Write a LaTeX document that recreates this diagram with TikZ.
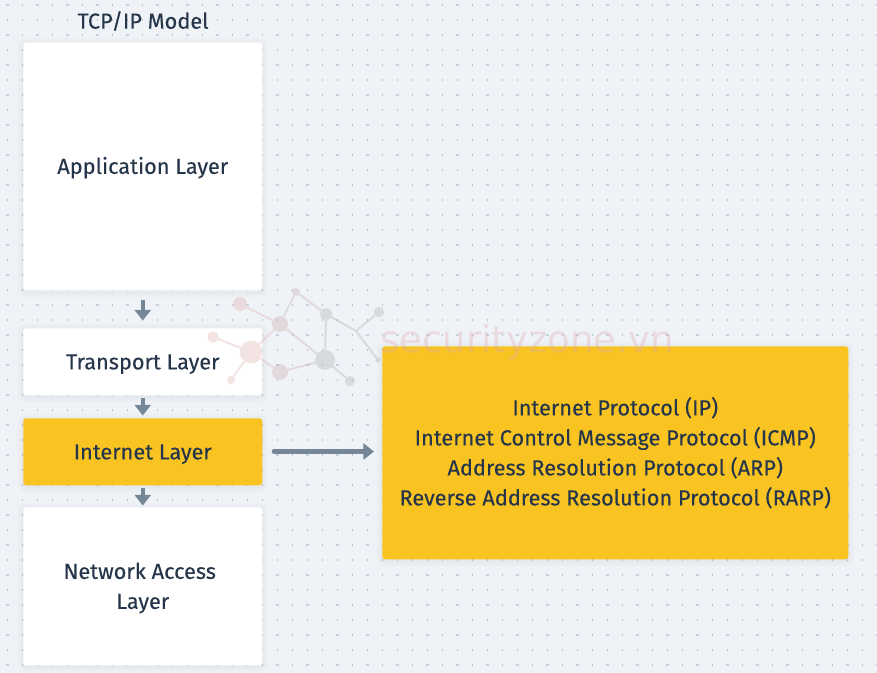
\documentclass[tikz,border=0pt]{standalone}
\usepackage{fontspec}
\setmainfont{Fira Sans}[FakeBold=0.15]
\newfontfamily\wmfont{DejaVu Sans}
\usetikzlibrary{arrows.meta}
\definecolor{bgc}{HTML}{EFF3F7}
\definecolor{ink}{HTML}{26364A}
\definecolor{amber}{HTML}{F9C422}
\definecolor{steel}{HTML}{758696}
\definecolor{dotc}{HTML}{C8D3E1}
\definecolor{wmred}{HTML}{DFA9A9}
\definecolor{wmmid}{HTML}{C8A4A8}
\definecolor{wmgrey}{HTML}{A9A9A9}
\newcommand\dn[1]{\raisebox{0pt}[\dimexpr\height+2.4pt\relax]{\begin{tabular}{@{}c@{}}#1\end{tabular}}}
\tikzset{
  px/.style={x=0.75pt,y=-0.75pt},
  boxbase/.style={rounded corners=2.2pt,inner sep=0pt,font=\fontsize{16.3pt}{22.5pt}\selectfont,text=ink,anchor=north west,
    preaction={draw=black,draw opacity=0.012,line width=9pt,transform canvas={yshift=-1pt}},
    preaction={draw=black,draw opacity=0.012,line width=6pt,transform canvas={yshift=-1pt}},
    preaction={draw=black,draw opacity=0.014,line width=3pt,transform canvas={yshift=-1pt}}},
  whitebox/.style={boxbase,fill=white},
  ambox/.style={boxbase,fill=amber},
  flow/.style={draw=steel,line width=3.4pt,-{Triangle[length=8pt,width=12pt]}},
  wl/.style={line width=1.5pt,line cap=round},
  wr/.style={wl,draw=wmred},
  wm/.style={wl,draw=wmmid},
  wg/.style={wl,draw=wmgrey},
  wdr/.style={circle,fill=wmred,inner sep=0pt},
  wdm/.style={circle,fill=wmmid,inner sep=0pt},
  wdg/.style={circle,fill=wmgrey,inner sep=0pt},
}
\begin{document}
\begin{tikzpicture}[px]
\useasboundingbox (0,0) rectangle (877,673);
\fill[bgc] (0,0) rectangle (877,673);
\foreach \i in {0,...,58}{\foreach \j in {0,...,44}{
  \pgfmathtruncatemacro{\big}{(mod(\i,2)==0 && mod(\j,2)==0)?1:0}
  \ifnum\big=1
    \fill[dotc] ({7.5+15*\i-1.5},{5+15*\j-1}) rectangle ++(3,2);
  \else
    \fill[dotc!80!gray] ({7.5+15*\i-0.5},{5+15*\j-1}) rectangle ++(1,2);
  \fi
}}
\node[font=\fontsize{16.3pt}{20pt}\selectfont,text=ink] (title) at (143,21) {TCP/IP Model};
\node[whitebox,minimum width=179.25pt,minimum height=186pt] (app) at (23,42) {\dn{Application Layer}};
\node[whitebox,minimum width=179.25pt,minimum height=50.25pt] (trans) at (23,328) {\dn{Transport Layer}};
\node[ambox,minimum width=179.25pt,minimum height=50.25pt] (inet) at (23,418) {\dn{Internet Layer}};
\node[whitebox,minimum width=179.25pt,minimum height=118.5pt] (net) at (23,507) {\dn{Network Access\hspace*{4.5pt}\\Layer}};
\node[ambox,minimum width=349.5pt,minimum height=159.75pt] (proto) at (382,346) {\dn{Internet Protocol (IP)\\Internet Control Message Protocol (ICMP)\\Address Resolution Protocol (ARP)\\Reverse Address Resolution Protocol (RARP)}};
\draw[flow] (app.south) ++(0,9) -- ++(0,21);
\draw[flow] (trans.south) ++(0,2) -- ++(0,18);
\draw[flow] (inet.south) ++(0,2) -- ++(0,18);
\coordinate (a) at (274,451.5);
\coordinate (b) at (374,451.5);
\draw[flow,line cap=round] (a) -- (b);
\begin{scope}[opacity=0.32,transparency group]
\node[wdr,minimum size=17pt] (n1) at (251,352) {};
\node[wdr,minimum size=8.5pt] (n2) at (213,337) {};
\node[wdr,minimum size=6pt] (n3) at (231,380) {};
\node[wdr,minimum size=10.5pt] (n4) at (240,304) {};
\node[wdm,minimum size=12pt] (n5) at (280,324) {};
\node[wdm,minimum size=12pt] (n6) at (280,372) {};
\node[wdm,minimum size=6pt] (n7) at (296,292) {};
\node[wdg,minimum size=15pt] (g1) at (325,360) {};
\node[wdg,minimum size=9pt] (g2) at (326,314) {};
\node[wdg,minimum size=8pt] (g3) at (379,312) {};
\node[wdg,minimum size=7.5pt] (g4) at (350,381) {};
\node[wdg,minimum size=4pt] (g5) at (378,360) {};
\coordinate (j) at (356,331);
\draw[wr] (n1)--(n2) (n1)--(n3) (n1)--(n5) (n1)--(n6) (n4)--(n5);
\draw[wm] (n5)--(n7) (n5)--(g1) (n6)--(g1) (n7)--(g2);
\draw[wg] (g2)--(g1) (g1)--(g4) (g2)--(j) (j)--(g3) (j)--(g5);
\node[anchor=west,text=wmred,font=\wmfont\fontsize{27.8pt}{30pt}\selectfont,inner sep=0pt] (wm) at (380,342) {securityzone.vn};
\end{scope}
\end{tikzpicture}
\end{document}
